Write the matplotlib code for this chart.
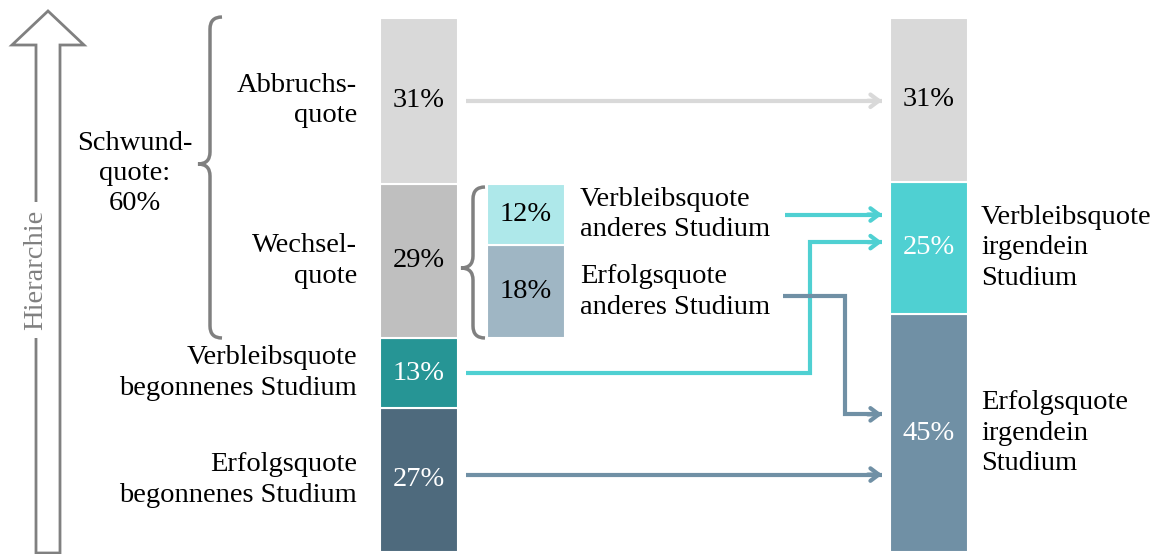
import matplotlib.pyplot as plt
from matplotlib.path import Path
from matplotlib.patches import PathPatch, Polygon

plt.rcParams['font.family'] = ['Liberation Serif', 'DejaVu Serif']

# --- data ---
left_labels = ['Erfolgsquote\nbegonnenes Studium', 'Verbleibsquote\nbegonnenes Studium',
               'Wechsel-\nquote', 'Abbruchs-\nquote']
left_values = [27, 13, 29, 31]
left_colors = ['#4e6a7d', '#269595', '#bfbfbf', '#d9d9d9']
left_txt = ['white', 'white', 'black', 'black']

mid_labels = ['Erfolgsquote\nanderes Studium', 'Verbleibsquote\nanderes Studium']
mid_values = [18, 12]
mid_colors = ['#9fb6c4', '#aee8ea']

right_labels = ['Erfolgsquote\nirgendein\nStudium', 'Verbleibsquote\nirgendein\nStudium', '']
right_values = [45, 25, 31]
right_colors = ['#7090a5', '#4fd0d2', '#d9d9d9']
right_txt = ['white', 'white', 'black']

schwund = left_values[2] + left_values[3]

W, H = 1162, 554
fig = plt.figure(figsize=(W / 100, H / 100), dpi=100)

# pixel axes for decorations
deco = fig.add_axes([0, 0, 1, 1])
deco.set_xlim(0, W)
deco.set_ylim(H, 0)
deco.axis('off')

# data axes: y in percent
ax = fig.add_axes([0, 0, 1, 1])
ax.set_xlim(0, W)
px = 5.34
ax.set_ylim(-2 / px, 552 / px)
ax.axis('off')

FS = 20.5
LS = 1.28
xl, xm, xr, bw = 419, 526, 929, 78


def stack(x, values, colors, base=0, total=None):
    # rounded shares are drawn scaled so they fill their parent segment
    scale = 1 if total is None else total / sum(values)
    spans = []
    b = base
    for v, c in zip(values, colors):
        h = v * scale
        ax.bar(x, h, bw, bottom=b, color=c, edgecolor='white', linewidth=1.5)
        spans.append((b, h))
        b += h
    return spans


ls = stack(xl, left_values, left_colors)
for (b, h), v, lab, tc in zip(ls, left_values, left_labels, left_txt):
    ax.text(xl, b + h / 2, f'{v}%', ha='center', va='center', color=tc, fontsize=FS)
    ax.text(357, b + h / 2, lab, ha='right', va='center', fontsize=FS,
            multialignment='right', linespacing=LS)

ms = stack(xm, mid_values, mid_colors, base=ls[2][0], total=left_values[2])
for (b, h), v, lab in zip(ms, mid_values, mid_labels):
    ax.text(xm, b + h / 2, f'{v}%', ha='center', va='center', color='black', fontsize=FS)
    ax.text(580, b + h / 2, lab, ha='left', va='center', fontsize=FS, linespacing=LS)

rs = stack(xr, right_values, right_colors, total=100)
for (b, h), v, lab, tc in zip(rs, right_values, right_labels, right_txt):
    ax.text(xr, b + h / 2, f'{v}%', ha='center', va='center', color=tc, fontsize=FS)
    if lab:
        ax.text(981, b + h / 2, lab, ha='left', va='center', fontsize=FS, linespacing=LS)

ax.text(135, 102 - 166 / px, f'Schwund-\nquote:\n{schwund}%', ha='center', va='center',
        fontsize=FS, linespacing=LS)


# arrows between bars
def arrow(pts, color):
    xs = [p[0] for p in pts]
    ys = [p[1] for p in pts]
    ax.plot(xs[:-1] + [xs[-1] - 3], ys, color=color, lw=3, solid_capstyle='butt',
            solid_joinstyle='miter')
    ax.annotate('', xy=(xs[-1], ys[-1]), xytext=(xs[-1] - 20, ys[-1]),
                arrowprops=dict(arrowstyle='->,head_length=0.6,head_width=0.45',
                                color=color, lw=3))


def mid(span, off=0):
    return span[0] + span[1] / 2 + off


cyan = '#4fd0d2'
blue = '#7090a5'
arrow([(466, mid(ls[3])), (885, mid(ls[3]))], '#d9d9d9')
arrow([(785, mid(ms[1])), (885, mid(ms[1]))], cyan)
arrow([(466, mid(ls[1])), (810, mid(ls[1])), (810, mid(rs[1], 1.1)), (885, mid(rs[1], 1.1))], cyan)
arrow([(783, mid(ms[0], -0.7)), (845, mid(ms[0], -0.7)), (845, mid(rs[0], 3.5)),
       (885, mid(rs[0], 3.5))], blue)
arrow([(466, mid(ls[0], 1.0)), (885, mid(ls[0], 1.0))], blue)


# braces (pixel coords)
def brace(x, y0, y1, ytip, w, r):
    verts = [(x + w, y0), (x, y0), (x, y0 + r), (x, ytip - r), (x, ytip), (x - w, ytip),
             (x, ytip), (x, ytip + r), (x, y1 - r), (x, y1), (x + w, y1)]
    codes = [Path.MOVETO, Path.CURVE3, Path.CURVE3, Path.LINETO, Path.CURVE3, Path.CURVE3,
             Path.CURVE3, Path.CURVE3, Path.LINETO, Path.CURVE3, Path.CURVE3]
    deco.add_patch(PathPatch(Path(verts, codes), fill=False, edgecolor='#808080', lw=2.5))


brace(210, 17, 338, 164, 12, 12)
brace(473, 187, 338, 268, 12, 12)

# hierarchy arrow
hier = Polygon([(36, 553), (36, 45), (12, 45), (48, 11), (84, 45), (60, 45), (60, 553)],
               closed=True, facecolor='white', edgecolor='#808080', lw=2)
deco.add_patch(hier)
deco.text(36, 270, 'Hierarchie', rotation=90, ha='center', va='center', color='#808080',
          fontsize=FS, bbox=dict(facecolor='white', edgecolor='none', pad=6))

fig.savefig('out.png', dpi=100)
